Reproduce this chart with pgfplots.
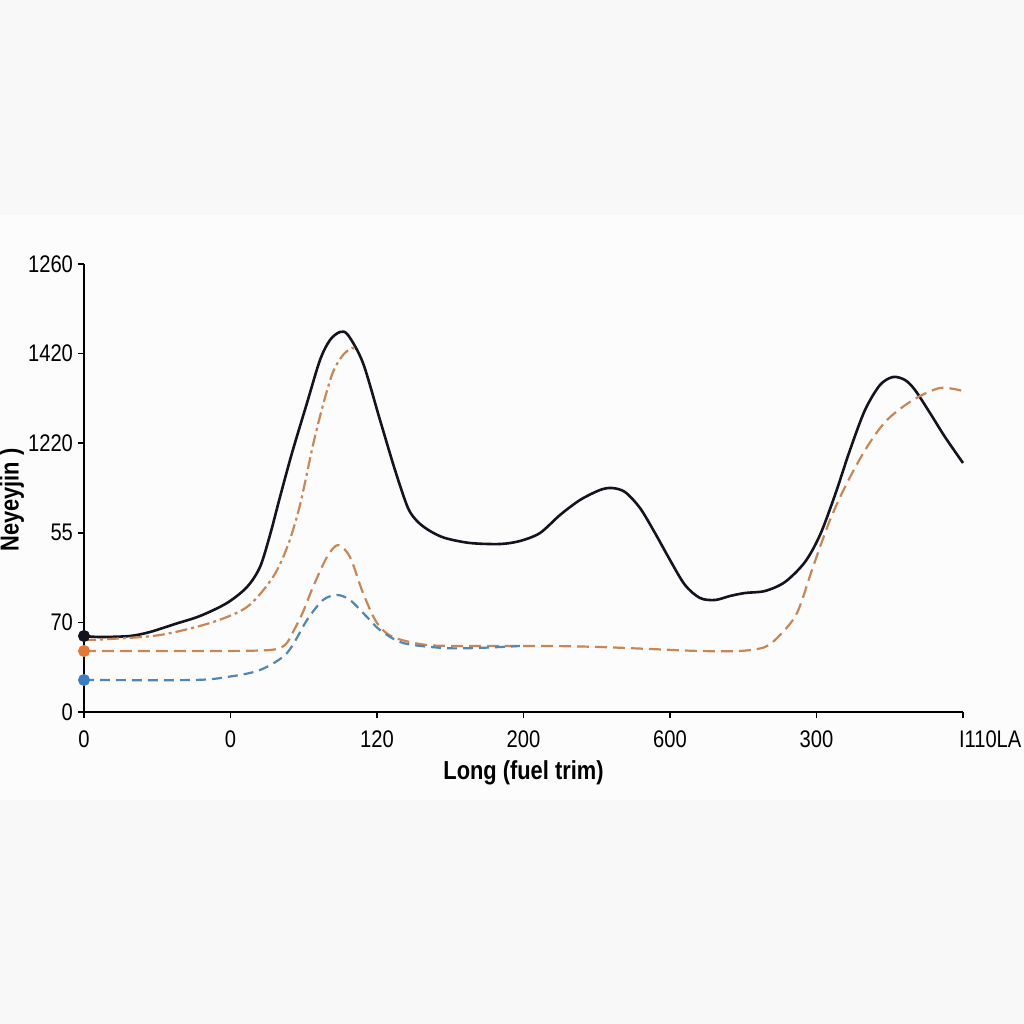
\documentclass[border=0pt]{standalone}
\usepackage{pgfplots}
\pgfplotsset{compat=1.18}
\usepackage{fontspec}
\setmainfont{Liberation Sans}[FakeStretch=0.84]
\definecolor{blk}{RGB}{20,20,30}
\definecolor{orl}{RGB}{200,135,85}
\definecolor{orm}{RGB}{230,120,50}
\definecolor{blu}{RGB}{80,135,185}
\definecolor{bluedot}{RGB}{60,125,195}
\begin{document}
\begin{tikzpicture}
\useasboundingbox (-42pt,-156pt) rectangle (470pt,356pt);
\fill[fill={rgb,255:red,248;green,248;blue,248}] (-42pt,-156pt) rectangle (470pt,356pt);
\fill[fill={rgb,255:red,252;green,252;blue,252}] (-42pt,-44pt) rectangle (470pt,248.5pt);
\begin{axis}[
  scale only axis, width=439.5pt, height=224pt,
  xmin=0, xmax=879, ymin=0, ymax=448,
  axis lines=left, axis line style={line width=1pt, -},
  clip=false,
  xtick={0,146.5,293,439.5,586,732.5,879},
  xticklabels={0,0,120,200,600,300,{\makebox[0pt][l]{\hspace{-2pt}I110LA}}},
  ytick={0,89.6,179.2,268.8,358.4,448},
  yticklabels={0,70,55,1220,1420,1260},
  tick align=outside, major tick length=3pt,
  tick style={line width=0.8pt, black},
  ticklabel style={font=\fontsize{12}{14}\selectfont},
  xticklabel style={yshift=-3pt},
  yticklabel style={xshift=1pt},
  xlabel={\textbf{Long (fuel trim)}},
  ylabel={\textbf{Neyeyjin )}},
  xlabel style={font=\fontsize{13}{15}\selectfont, at={(axis description cs:0.5,-0.136)}, anchor=center},
  ylabel style={font=\fontsize{13}{15}\selectfont, at={(axis description cs:-0.082,0.473)}, anchor=center},
]
% black solid
\addplot[blk, line width=1.3pt, smooth, tension=0.5] coordinates {
(0,76)(16,75)(46,76)(66,80)(91,88)(116,96)(143,109)(163,125)(176,145)(186,177)
(196,215)(208,259)(223,309)(236,352)(246,372)(256,380)(264,377)(279,349)(296,292)
(311,242)(324,204)(334,190)(346,181)(361,174)(386,169)(416,168)(436,171)(456,179)(476,197)
(496,212)(516,222)(528,224)(541,220)(556,204)(571,179)(586,152)(601,127)(616,114)
(631,112)(646,116)(661,119)(681,121)(701,130)(721,150)(736,177)(751,217)(766,262)
(781,302)(796,327)(809,335)(821,332)(831,322)(846,299)(861,275)(879,249)};
% orange upper dash-dot
\addplot[orl, line width=1.1pt, smooth, tension=0.5, dash pattern=on 6pt off 2pt on 1.5pt off 2pt] coordinates {
(0,72)(26,73)(76,77)(126,89)(163,105)(189,135)(204,167)(216,207)(229,267)
(239,307)(249,340)(259,357)(268,364)(273,362)};
% orange lower dashed
\addplot[orl, line width=1.1pt, smooth, tension=0.5, dash pattern=on 6pt off 3pt] coordinates {
(0,61)(66,61)(136,61)(186,62)(201,67)(209,80)(219,100)(229,125)(243,155)(254,167)
(266,155)(279,119)(293,89)(309,75)(343,67)(393,66)(466,66)(516,65)(566,63)(616,61)
(656,61)(681,65)(696,77)(713,99)(729,145)(746,192)(763,229)(783,265)(803,292)
(829,312)(856,324)(879,321)};
% blue dashed
\addplot[blu, line width=1.1pt, smooth, tension=0.5, dash pattern=on 5pt off 3pt] coordinates {
(0,32)(109,32)(143,35)(176,42)(203,59)(223,92)(239,112)(253,117)(266,112)(283,95)
(296,82)(319,69)(359,64)(393,64)(436,66)};
% start dots
\addplot[only marks, mark=*, mark size=2.8pt, blk] coordinates {(0,76)};
\addplot[only marks, mark=*, mark size=2.8pt, orm, mark options={draw=orm}] coordinates {(0,61)};
\addplot[only marks, mark=*, mark size=2.8pt, bluedot, mark options={draw=bluedot}] coordinates {(0,32)};
\end{axis}
\end{tikzpicture}
\end{document}
